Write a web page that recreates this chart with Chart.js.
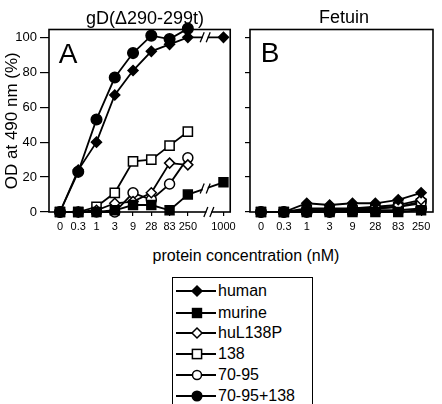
<!DOCTYPE html>
<html>
<head>
<meta charset="utf-8">
<script src="https://cdn.jsdelivr.net/npm/chart.js@4.4.1/dist/chart.umd.min.js"></script>
<style>
  html,body{margin:0;padding:0;background:#fff;}
  body{width:442px;height:404px;position:relative;overflow:hidden;font-family:"Liberation Sans",Arial,sans-serif;color:#000;}
  .abs{position:absolute;}
  .lbl{position:absolute;transform:translate(-50%,-50%);white-space:nowrap;}
  #legend{position:absolute;left:172px;top:277px;width:141px;height:140px;border:1.5px solid #000;box-sizing:border-box;}
  .row{position:absolute;left:0;height:20px;width:140px;}
  .row svg{position:absolute;left:1px;top:0;}
  .row span{position:absolute;left:45px;top:0;line-height:20px;font-size:16px;}
</style>
</head>
<body>
<canvas id="cA" class="abs" style="left:0;top:0;"></canvas>
<canvas id="cB" class="abs" style="left:240px;top:0;"></canvas>

<div class="lbl" style="left:145px;top:18px;font-size:18px;">gD(Δ290-299t)</div>
<div class="lbl" style="left:344px;top:17px;font-size:18px;">Fetuin</div>
<div class="lbl" style="left:68px;top:54px;font-size:28px;">A</div>
<div class="lbl" style="left:270px;top:53px;font-size:28px;">B</div>
<div class="lbl" style="left:246px;top:256px;font-size:16px;">protein concentration (nM)</div>
<div id="legend"></div>

<script>
// ---- data ----
const categories = ['0','0.3','1','3','9','28','83','250','1000'];
const categoriesB = ['0','0.3','1','3','9','28','83','250'];
const axisPosA = [0,1,2,3,4,5,6,7,8.95]; // broken-axis positions of the categories in panel A
const seriesNames = ['human','murine','huL138P','138','70-95','70-95+138'];
const yTicks = [0,20,40,60,80,100];

// panel A (gD(Δ290-299t))
const A_human     = [0,24,40,67,81,92,96,100,100];
const A_murine    = [0,0,0,1,4,4,1,10,17];
const A_huL138P   = [0,0,1,5,6,11,28,27];
const A_138       = [0,0,3,11,29,30,38,46];
const A_70_95     = [0,0,0,0,11,7,16,31];
const A_70_95_138 = [0,23,53,77,91,101,99,105];

// panel B (Fetuin)
const B_human     = [0,0,5,4,5,5,7,11];
const B_murine    = [0,0,0,0,0,0,0,1];
const B_huL138P   = [0,0,2,2,2,3,4,7];
const B_138       = [0,0,1,1,1,2,3,5];
const B_70_95     = [0,0,1,1,2,2,3,6];
const B_70_95_138 = [0,0,0,0,1,1,1,2];

// ---- styles ----
const styles = [
  {pointStyle:'rectRot', radius:5,   fill:'#000'},
  {pointStyle:'rect',    radius:6.3, fill:'#000'},
  {pointStyle:'rectRot', radius:5,   fill:'#fff'},
  {pointStyle:'rect',    radius:6.5, fill:'#fff'},
  {pointStyle:'circle',  radius:5,   fill:'#fff'},
  {pointStyle:'circle',  radius:5.3, fill:'#000'}
];

function makeDatasets(valueLists, positions){
  return valueLists.map((vals,i)=>({
    label: seriesNames[i],
    data: vals.map((v,j)=>({x: positions[j], y: v})),
    borderColor:'#000',
    borderWidth:1.8,
    pointStyle: styles[i].pointStyle,
    pointRadius: styles[i].radius,
    pointBackgroundColor: styles[i].fill,
    pointBorderColor:'#000',
    pointBorderWidth:1.5,
    tension:0,
    clip:false
  }));
}

const framePlugin = {
  id:'frame',
  afterDatasetsDraw(chart){
    const a = chart.chartArea, ctx = chart.ctx;
    ctx.save();
    ctx.strokeStyle='#000'; ctx.lineWidth=1.6;
    ctx.strokeRect(a.left, a.top, a.right-a.left, a.bottom-a.top);
    ctx.restore();
  }
};

function drawBreak(ctx, x, y){
  ctx.save();
  ctx.fillStyle='#fff';
  ctx.fillRect(x-2.5, y-4, 5, 8);
  ctx.strokeStyle='#000'; ctx.lineWidth=1.3;
  ctx.beginPath();
  ctx.moveTo(x-5, y+5); ctx.lineTo(x-1, y-5);
  ctx.moveTo(x+1, y+5); ctx.lineTo(x+5, y-5);
  ctx.stroke();
  ctx.restore();
}

const breakPlugin = {
  id:'breaks',
  afterDraw(chart){
    const ctx = chart.ctx, xs = chart.scales.x, a = chart.chartArea;
    // axis break
    drawBreak(ctx, xs.getPixelForValue(8.15), a.bottom);
    // line breaks for series reaching 1000
    chart.data.datasets.forEach((ds,i)=>{
      if (ds.data.length < 9) return;
      const pts = chart.getDatasetMeta(i).data;
      const p1 = pts[7], p2 = pts[8];
      const bx = xs.getPixelForValue(7.95);
      const t = (bx - p1.x)/(p2.x - p1.x);
      const by = p1.y + t*(p2.y - p1.y);
      drawBreak(ctx, bx, by);
    });
  }
};

function baseOptions(cfg){
  return {
    responsive:false,
    animation:false,
    events:[],
    layout:{padding:{top:29.5, right:cfg.padRight, left:0, bottom:0}},
    plugins:{legend:{display:false}, tooltip:{enabled:false}},
    scales:{
      x:{
        type:'linear', min:cfg.xmin, max:cfg.xmax,
        afterBuildTicks(s){ s.ticks = cfg.positions.map(v=>({value:v})); },
        afterFit(s){ s.height = 28; },
        ticks:{
          autoSkip:false, maxRotation:0, padding:4, color:'#000',
          font:{family:'Liberation Sans', size:11},
          callback:(v,idx)=>cfg.labels[idx]
        },
        grid:{drawOnChartArea:false, drawTicks:true, tickLength:4, color:'#000', lineWidth:1.2},
        border:{display:false}
      },
      y:{
        type:'linear', min:0, max:104.5,
        afterBuildTicks(s){ s.ticks = yTicks.map(v=>({value:v})); },
        afterFit(s){ s.width = cfg.yWidth; },
        ticks:{display:cfg.yLabels, padding:3, color:'#000', font:{family:'Liberation Sans', size:13}},
        grid:{drawOnChartArea:false, drawTicks:true, tickLength:cfg.yTick, color:'#000', lineWidth:1.2},
        border:{display:false},
        title:{display:cfg.yLabels, text:'OD at 490 nm (%)', color:'#000', font:{family:'Liberation Sans', size:17}, padding:{top:2,bottom:0}}
      }
    }
  };
}

const cA = document.getElementById('cA');
cA.width = 240; cA.height = 240;
new Chart(cA, {
  type:'line',
  data:{datasets: makeDatasets([A_human,A_murine,A_huL138P,A_138,A_70_95,A_70_95_138], axisPosA)},
  options: baseOptions({padRight:7, xmin:-0.6, xmax:9.32, positions:axisPosA, labels:categories, yWidth:49, yLabels:true, yTick:9}),
  plugins:[framePlugin, breakPlugin]
});

const posB = categoriesB.map((c,i)=>i);
const cB = document.getElementById('cB');
cB.width = 202; cB.height = 240;
new Chart(cB, {
  type:'line',
  data:{datasets: makeDatasets([B_human,B_murine,B_huL138P,B_138,B_70_95,B_70_95_138], posB)},
  options: baseOptions({padRight:9, xmin:-0.48, xmax:7.52, positions:posB, labels:categoriesB, yWidth:10, yLabels:false, yTick:5}),
  plugins:[framePlugin]
});

// ---- legend (HTML text, SVG samples) ----
const legend = document.getElementById('legend');
const rowTops = [3, 24.5, 45, 66, 87, 108];
seriesNames.forEach((name,i)=>{
  const st = styles[i];
  let marker = '';
  const cx = 23, cy = 10;
  if (st.pointStyle === 'rectRot') {
    const r = st.radius;
    marker = `<polygon points="${cx},${cy-r} ${cx+r},${cy} ${cx},${cy+r} ${cx-r},${cy}" fill="${st.fill}" stroke="#000" stroke-width="1.5"/>`;
  } else if (st.pointStyle === 'rect') {
    const h = st.radius*Math.SQRT1_2;
    marker = `<rect x="${cx-h}" y="${cy-h}" width="${2*h}" height="${2*h}" fill="${st.fill}" stroke="#000" stroke-width="1.5"/>`;
  } else {
    marker = `<circle cx="${cx}" cy="${cy}" r="${st.radius-0.5}" fill="${st.fill}" stroke="#000" stroke-width="1.5"/>`;
  }
  const row = document.createElement('div');
  row.className = 'row';
  row.style.top = rowTops[i] + 'px';
  row.innerHTML = `<svg width="44" height="20"><line x1="2" y1="${cy}" x2="42" y2="${cy}" stroke="#000" stroke-width="1.8"/>${marker}</svg><span>${name}</span>`;
  legend.appendChild(row);
});
</script>
</body>
</html>
